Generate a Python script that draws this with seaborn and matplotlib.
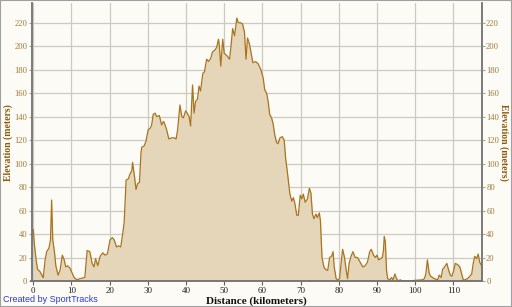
import numpy as np
import pandas as pd
import matplotlib
matplotlib.use("Agg")
import matplotlib.pyplot as plt
import seaborn as sns

distance_km = [
    0.0, 0.26, 0.7, 1.1, 1.75, 2.4, 2.6, 3.1, 3.5, 4.1, 4.5, 4.8, 5.1, 5.5, 5.9, 6.5, 7.0, 7.6, 8.1, 8.5,
    9.0, 9.6, 10.0, 10.7, 11.4, 12.2, 13.5, 14.1, 14.8, 15.4, 15.9, 16.3, 16.9, 17.5, 18.2, 18.8, 19.4,
    20.1, 20.7, 21.2, 21.8, 22.3, 22.9, 23.4, 23.8, 24.3, 24.9, 25.3, 25.8, 26.0, 26.5, 26.9, 27.3, 27.8,
    28.2, 28.4, 29.0, 29.5, 30.1, 30.6, 31.0, 31.4, 31.9, 32.3, 33.0, 33.6, 34.1, 34.5, 34.9, 35.5, 36.2,
    36.9, 37.4, 37.8, 38.4, 38.9, 39.3, 39.9, 40.3, 40.8, 41.2, 41.7, 42.1, 42.5, 43.0, 43.4, 43.8, 44.4,
    44.8, 45.4, 45.9, 46.5, 46.9, 47.6, 48.0, 48.5, 48.7, 49.1, 49.6, 50.0, 50.7, 51.4, 51.8, 52.2, 52.7,
    53.3, 53.7, 54.3, 54.8, 55.3, 55.7, 56.1, 56.6, 57.1, 57.5, 58.2, 58.9, 59.6, 60.2, 60.6, 61.1, 61.5,
    61.9, 62.4, 62.8, 63.2, 63.7, 64.1, 64.6, 65.2, 65.7, 66.1, 66.6, 67.2, 67.7, 68.1, 68.5, 69.0, 69.4,
    69.9, 70.3, 70.7, 71.2, 71.8, 72.3, 72.7, 73.1, 73.5, 74.0, 74.4, 74.9, 75.2, 75.6, 76.1, 76.5, 77.1,
    77.6, 78.1, 78.5, 78.8, 79.3, 79.7, 80.2, 80.6, 81.0, 81.5, 81.9, 82.3, 82.7, 83.2, 83.7, 84.3, 84.9,
    85.6, 86.3, 86.9, 87.5, 88.1, 88.5, 89.1, 89.6, 90.0, 90.4, 90.9, 91.4, 91.7, 91.9, 92.2, 92.5, 92.8,
    93.4, 93.8, 94.2, 94.7, 95.1, 95.7, 96.1, 96.6, 99.3, 99.7, 101.9, 102.4, 102.8, 103.2, 103.7, 104.1,
    105.0, 105.9, 106.3, 106.8, 107.2, 107.7, 108.3, 108.7, 109.2, 109.6, 110.1, 110.5, 111.1, 111.7,
    112.1, 112.6, 113.0, 113.7, 114.3, 114.8, 115.2, 115.6, 116.1, 116.5, 116.9, 117.4, 117.6,
]
elevation_m = [
    44, 32, 19, 10, 8, 4, 3, 18, 25, 28, 35, 69, 35, 26, 13, 5, 9, 22, 18, 12,
    13, 11, 8, 3, 1, 2, 3, 26, 25, 15, 12, 19, 13, 21, 24, 22, 23,
    35, 37, 35, 29, 30, 29, 40, 50, 86, 87, 91, 94, 101, 89, 78, 83, 84,
    109, 114, 115, 119, 129, 130, 133, 142, 143, 140, 141, 133, 136, 133, 129, 121, 122,
    122, 121, 129, 150, 140, 139, 145, 143, 140, 132, 167, 143, 153, 155, 166, 162, 177,
    178, 189, 187, 190, 195, 197, 199, 206, 201, 183, 206, 194, 192, 189, 201, 215, 209,
    224, 220, 220, 219, 212, 189, 207, 202, 193, 186, 187, 185, 180, 173, 163, 160, 153,
    142, 139, 134, 125, 118, 117, 122, 123, 120, 104, 91, 74, 68, 71, 66, 56, 56,
    73, 70, 74, 67, 70, 79, 75, 57, 53, 57, 54, 58, 51, 20, 12, 10, 9,
    20, 21, 25, 12, 2, 1, 2, 15, 27, 20, 10, 2, 15, 21, 25, 20, 20,
    16, 12, 13, 16, 25, 27, 22, 20, 22, 18, 19, 20, 26, 38, 33, 9, 2,
    1, 3, 1, 6, 2, 0, 1, 0, 0, 0.5, 1, 2, 6, 18, 6, 4,
    2, 1, 5, 3, 10, 12, 15, 10, 5, 4, 9, 15, 14, 12,
    7, 1, 1, 2, 4, 6, 15, 21, 19, 23, 16, 13, 11,
]
x_ticks = list(range(0, 111, 10))
y_ticks = list(range(0, 221, 20))

df = pd.DataFrame({"Distance": distance_km, "Elevation": elevation_m})

sns.set_style("white")
bg = "#fcfbf6"
tick_brown = "#a07a3a"
label_brown = "#8a5a10"
serif = ["Liberation Serif", "DejaVu Serif"]

fig = plt.figure(figsize=(5.12, 3.07), dpi=100, facecolor=bg)
ax = fig.add_axes([31.5 / 512, 26 / 307, (482 - 31.5) / 512, (281 - 3.3) / 307])
ax.set_facecolor(bg)

ax.fill_between(df["Distance"], df["Elevation"], 0, color="#e5d5b9", lw=0, zorder=2)
sns.lineplot(data=df, x="Distance", y="Elevation", ax=ax, color="#a8741e", lw=0.9,
             zorder=3, sort=False, estimator=None)

ax.set_xlim(-0.47, 117.5)
ax.set_ylim(0, 236.6)
ax.set_xticks(x_ticks)
ax.set_yticks(y_ticks)
ax.grid(True, color="#cdcac4", lw=0.9, zorder=1)
ax.set_axisbelow(True)

ax.spines["top"].set_visible(False)
for s in ["left", "right", "bottom"]:
    ax.spines[s].set_color("#707070")
    ax.spines[s].set_linewidth(1.3)
    ax.spines[s].set_zorder(4)

ax.tick_params(axis="x", length=3, width=0.8, color="#606060", pad=1, labelsize=6.5,
               labelcolor="#222222", bottom=True)
ax.tick_params(axis="y", length=2.5, width=0.8, color="#a0a0a0", pad=0.5, labelsize=6.2,
               labelcolor=tick_brown, left=True)
for lbl in ax.get_xticklabels() + ax.get_yticklabels():
    lbl.set_family(serif)

ax.set_xlabel("Distance (kilometers)", fontsize=8, fontweight="bold", family=serif,
              color="#111111", labelpad=1)
ax.set_ylabel("Elevation (meters)", fontsize=7, fontweight="bold", family=serif,
              color=label_brown, va="center")
ax.yaxis.set_label_coords((8.5 - 31.5) / 450.5, 0.5)

ax2 = ax.twinx()
ax2.set_ylim(ax.get_ylim())
ax2.set_yticks(y_ticks)
ax2.tick_params(axis="y", length=2.5, width=0.8, color="#a0a0a0", pad=0.5, labelsize=6.2,
                labelcolor=tick_brown, right=True)
for lbl in ax2.get_yticklabels():
    lbl.set_family(serif)
for s in ax2.spines.values():
    s.set_visible(False)
ax2.set_ylabel("Elevation (meters)", fontsize=7, fontweight="bold", family=serif,
               color=label_brown, rotation=270, va="center")
ax2.yaxis.set_label_coords((503.5 - 31.5) / 450.5, 0.5)

fig.text(3 / 512, 1 - 302 / 307, "Created by SportTracks", fontsize=6.5, color="#2a3ad6",
         family=["Liberation Sans", "DejaVu Sans"], va="baseline")

border = plt.Rectangle((0, 0), 1, 1, transform=fig.transFigure, fill=False,
                       edgecolor="#a0a0a0", lw=1.5)
fig.patches.append(border)

fig.savefig("out.png", dpi=100, facecolor=bg)
